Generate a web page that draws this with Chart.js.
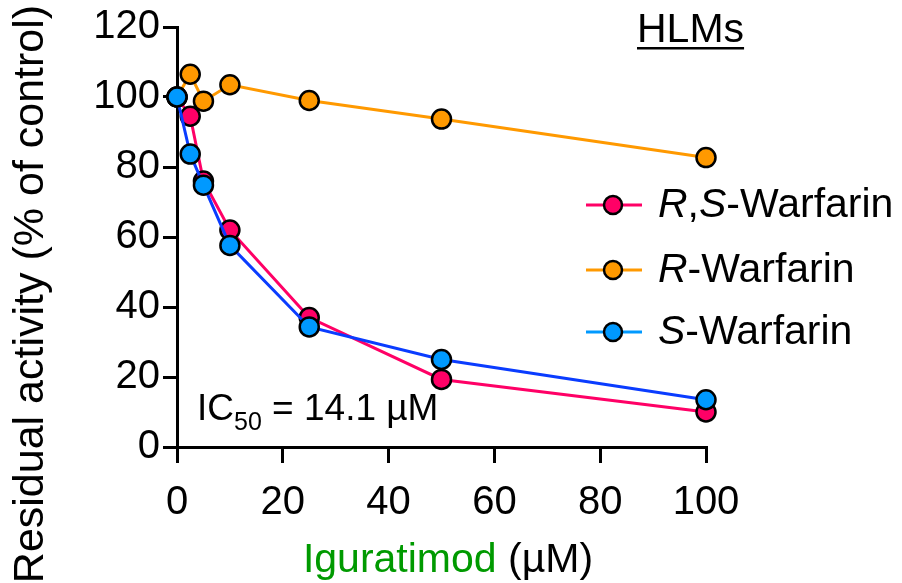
<!DOCTYPE html>
<html>
<head>
<meta charset="utf-8">
<script src="https://cdn.jsdelivr.net/npm/chart.js@4"></script>
<style>
  html, body { margin: 0; padding: 0; background: #fff; }
  #wrap { width: 902px; height: 583px; }
</style>
</head>
<body>
<div id="wrap"><canvas id="chart" width="902" height="583"></canvas></div>
<script>
/* ── Data ───────────────────────────────────────── */
const conc        = [0, 2.5, 5, 10, 25, 50, 100];      // Iguratimod (µM)
const rsWarfarin  = [100, 94.5, 76, 62, 37, 19.3, 10];
const rWarfarin   = [100, 106.5, 98.8, 103.5, 99, 93.7, 82.7];
const sWarfarin   = [100, 83.7, 74.8, 57.6, 34.3, 25, 13.5];
const xTicks      = [0, 20, 40, 60, 80, 100];
const yTicks      = [0, 20, 40, 60, 80, 100, 120];

const PINK = '#ff0066', ORANGE = '#ff9900', BLUE = '#0099ff', BLUE_LINE = '#0a3cff';
const FONT = '"Liberation Sans", Arial, sans-serif';

const pts = ys => conc.map((x, i) => ({ x, y: ys[i] }));

function series(label, ys, line, fill, order) {
  return {
    label, data: pts(ys), order,
    borderColor: line, borderWidth: 3,
    pointRadius: 9.5, pointHoverRadius: 9.5,
    pointBackgroundColor: fill, pointBorderColor: '#000', pointBorderWidth: 2.5,
    tension: 0, clip: false
  };
}

/* ── Free text: axis titles, legend, labels ─────── */
const textPlugin = {
  id: 'texts',
  afterDraw(chart) {
    const ctx = chart.ctx;
    ctx.save();
    ctx.fillStyle = '#000';

    // y title
    ctx.save();
    ctx.translate(43, 294);
    ctx.rotate(-Math.PI / 2);
    ctx.font = '43px ' + FONT;
    ctx.textAlign = 'center';
    ctx.textBaseline = 'alphabetic';
    ctx.fillText('Residual activity (% of control)', 0, 0);
    ctx.restore();

    // x title: green drug name + black unit
    ctx.font = '41px ' + FONT;
    ctx.textBaseline = 'alphabetic';
    ctx.textAlign = 'left';
    const a = 'Iguratimod', b = ' (\u00b5M)';
    const w = ctx.measureText(a + b).width;
    let x0 = 448 - w / 2;
    ctx.fillStyle = '#009a00';
    ctx.fillText(a, x0, 572);
    ctx.fillStyle = '#000';
    ctx.fillText(b, x0 + ctx.measureText(a).width, 572);

    // HLMs, underlined
    ctx.font = '41px ' + FONT;
    ctx.fillText('HLMs', 637, 42);
    const hw = ctx.measureText('HLMs').width;
    ctx.fillRect(637, 47, hw, 2.5);

    // IC50 label
    ctx.font = '37px ' + FONT;
    ctx.fillText('IC', 197, 420);
    let ix = 197 + ctx.measureText('IC').width;
    ctx.font = '25px ' + FONT;
    ctx.fillText('50', ix, 430);
    ix += ctx.measureText('50').width;
    ctx.font = '37px ' + FONT;
    ctx.fillText(' = 14.1 \u00b5M', ix, 420);

    // legend
    const rows = [
      { y: 205, line: PINK,   fill: PINK,   parts: [['R', true], [',', false], ['S', true], ['-Warfarin', false]] },
      { y: 270, line: ORANGE, fill: ORANGE, parts: [['R', true], ['-Warfarin', false]] },
      { y: 332, line: BLUE,   fill: BLUE,   parts: [['S', true], ['-Warfarin', false]] }
    ];
    rows.forEach(r => {
      ctx.strokeStyle = r.line;
      ctx.lineWidth = 3;
      ctx.beginPath();
      ctx.moveTo(586, r.y); ctx.lineTo(642, r.y);
      ctx.stroke();
      ctx.beginPath();
      ctx.arc(613, r.y, 9, 0, Math.PI * 2);
      ctx.fillStyle = r.fill;
      ctx.fill();
      ctx.lineWidth = 2.5;
      ctx.strokeStyle = '#000';
      ctx.stroke();

      ctx.fillStyle = '#000';
      ctx.textBaseline = 'middle';
      let tx = 658;
      r.parts.forEach(([s, it]) => {
        ctx.font = (it ? 'italic ' : '') + '41px ' + FONT;
        ctx.fillText(s, tx, r.y + 1);
        tx += ctx.measureText(s).width;
      });
    });
    ctx.restore();
  }
};

/* ── Chart ───────────────────────────────────────── */
const axisStyle = {
  border: { color: '#000', width: 3 },
  grid: { drawOnChartArea: false, drawTicks: true, tickLength: 14, color: '#000', lineWidth: 3 },
};

new Chart(document.getElementById('chart'), {
  type: 'line',
  data: {
    datasets: [
      series('R,S-Warfarin', rsWarfarin, PINK, PINK, 2),
      series('R-Warfarin', rWarfarin, ORANGE, ORANGE, 3),
      series('S-Warfarin', sWarfarin, BLUE_LINE, BLUE, 1)
    ]
  },
  options: {
    responsive: false,
    animation: false,
    devicePixelRatio: 1,
    layout: { padding: { top: 25, right: 196, bottom: 0, left: 0 } },
    plugins: { legend: { display: false }, tooltip: { enabled: false } },
    scales: {
      x: {
        type: 'linear', min: 0, max: 100,
        ...axisStyle,
        grid: { ...axisStyle.grid, tickLength: 16 },
        afterBuildTicks: s => { s.ticks = xTicks.map(v => ({ value: v })); },
        afterFit: s => { s.height = 136; },
        ticks: { color: '#000', font: { family: FONT, size: 40 }, padding: 16, maxRotation: 0 }
      },
      y: {
        type: 'linear', min: 0, max: 120,
        ...axisStyle,
        afterBuildTicks: s => { s.ticks = yTicks.map(v => ({ value: v })); },
        afterFit: s => { s.width = 177; },
        ticks: { color: '#000', font: { family: FONT, size: 40 }, padding: 3 }
      }
    }
  },
  plugins: [textPlugin]
});
</script>
</body>
</html>
